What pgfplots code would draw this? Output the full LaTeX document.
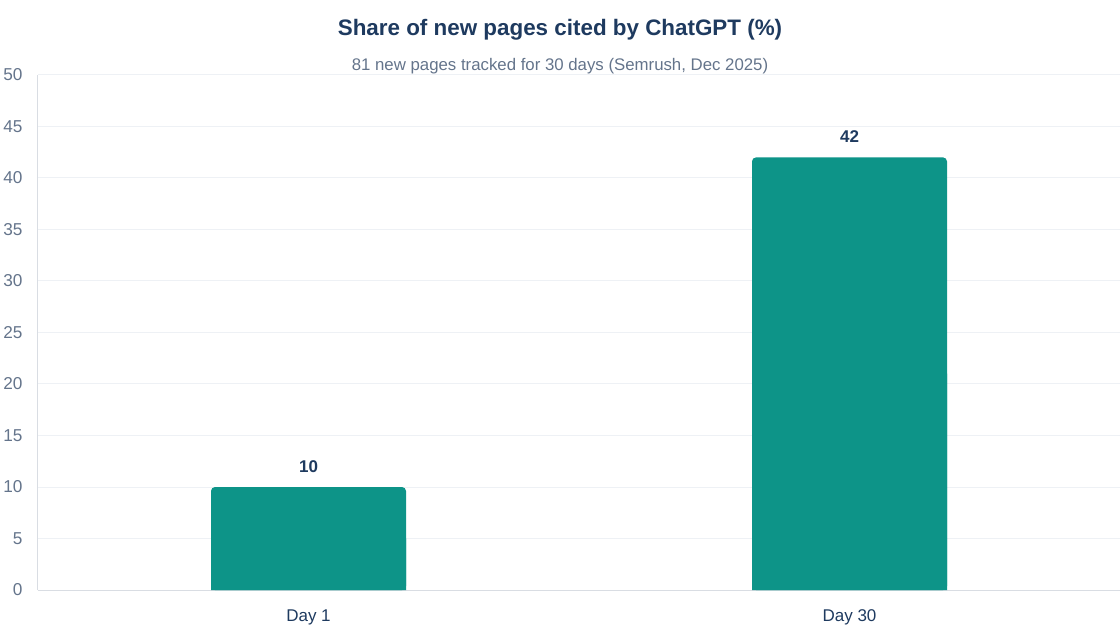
\documentclass[border=0pt]{standalone}
\usepackage{pgfplots}
\pgfplotsset{compat=1.18}
\usepackage{fontspec}
\setmainfont{Liberation Sans}
\definecolor{titlec}{HTML}{1E3A5F}
\definecolor{subc}{HTML}{64748B}
\definecolor{barc}{HTML}{0D9488}
\definecolor{gridc}{HTML}{EEF1F5}
\definecolor{axisc}{HTML}{D9DDE3}
\begin{document}
\begin{tikzpicture}[x=1pt,y=1pt]
\path[use as bounding box] (0,0) rectangle (1120,630);
\node[font=\fontsize{22.4}{26}\selectfont\bfseries, text=titlec] at (560,600) {Share of new pages cited by ChatGPT (\%)};
\node[font=\fontsize{16.8}{20}\selectfont, text=subc] at (560,564) {81 new pages tracked for 30 days (Semrush, Dec 2025)};
\begin{axis}[
  at={(38pt,40pt)}, anchor=south west,
  scale only axis, width=1082pt, height=515pt,
  xmin=-0.5, xmax=1.5, ymin=0, ymax=50,
  xtick={0,1}, xticklabels={Day 1, Day 30},
  ytick={0,5,...,50},
  /pgf/number format/assume math mode=true,
  major tick length=0pt,
  axis line style={draw=axisc, line width=1pt},
  axis x line*=bottom, axis y line*=left,
  ymajorgrids, grid style={draw=gridc, line width=1pt},
  yticklabel style={font=\fontsize{17.2}{21}\selectfont, text=subc, anchor=east, xshift=-12pt},
  xticklabel style={font=\fontsize{17}{21}\selectfont, text=titlec, anchor=center, yshift=-27pt},
  clip=false,
]
\addplot[ybar, bar width=195pt, bar shift=0pt, fill=barc, draw=none, rounded corners=4pt,
  nodes near coords, every node near coord/.style={font=\fontsize{17}{20}\selectfont\bfseries, text=titlec, anchor=south, yshift=11pt}]
  coordinates {(0,10) (1,42)};
\addplot[ybar, bar width=195pt, bar shift=0pt, fill=barc, draw=none]
  coordinates {(0,5) (1,21)};
\end{axis}
\end{tikzpicture}
\end{document}
